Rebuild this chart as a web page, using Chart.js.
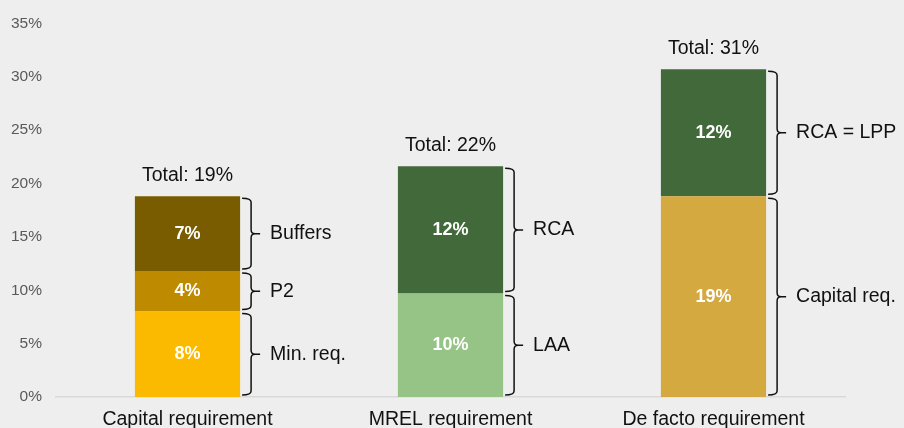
<!DOCTYPE html>
<html><head><meta charset="utf-8">
<script src="https://cdn.jsdelivr.net/npm/chart.js@4"></script>
<style>html,body{margin:0;padding:0;background:#EEEEEE;}#wrap{width:904px;height:428px;}</style>
</head><body><div id="wrap"><canvas id="c" width="904" height="428"></canvas></div>
<script>
const categories = ['Capital requirement', 'MREL requirement', 'De facto requirement'];
const minReq   = [8.0, null, null];
const p2       = [3.8, null, null];
const buffers  = [7.0, null, null];
const laa      = [null, 9.7, null];
const capReq   = [null, null, 18.8];
const rca      = [null, 11.9, 11.9];
const segmentNames = ['Min. req.', 'P2', 'Buffers', 'LAA', 'Capital req.', 'RCA'];
const rcaBracketNames = [null, 'RCA', 'RCA = LPP'];
const yTicks = [0, 5, 10, 15, 20, 25, 30, 35];

const colors = ['#FBBA00', '#BE8B00', '#7A5C00', '#96C386', '#D4A940', '#41693A'];
const series = [minReq, p2, buffers, laa, capReq, rca];
const FONT = '"Liberation Sans", Arial, sans-serif';

const overlay = {
  id: 'overlay',
  afterDatasetsDraw(chart) {
    const ctx = chart.ctx;
    const y = chart.scales.y;
    const nCat = categories.length;
    ctx.save();
    chart.data.datasets.forEach((ds, di) => {
      const meta = chart.getDatasetMeta(di);
      meta.data.forEach((bar, i) => {
        const v = ds.data[i];
        if (v == null) return;
        const top = Math.min(bar.y, bar.base), bot = Math.max(bar.y, bar.base);
        const mid = (top + bot) / 2;
        ctx.fillStyle = '#FFFFFF';
        ctx.font = 'bold 18px ' + FONT;
        ctx.textAlign = 'center';
        ctx.textBaseline = 'middle';
        ctx.fillText(Math.round(v) + '%', bar.x, mid);
        const right = bar.x + bar.width / 2;
        const x0 = right + 2, x1 = right + 11, x2 = right + 20;
        const t = top + 2, b = bot - 2, r = 4;
        ctx.strokeStyle = '#111111';
        ctx.lineWidth = 1.5;
        ctx.beginPath();
        ctx.moveTo(x0, t);
        ctx.quadraticCurveTo(x1, t, x1, t + r);
        ctx.lineTo(x1, mid - r);
        ctx.quadraticCurveTo(x1, mid, x1 + 4, mid);
        ctx.lineTo(x2, mid);
        ctx.moveTo(x1 + 4, mid);
        ctx.quadraticCurveTo(x1, mid, x1, mid + r);
        ctx.lineTo(x1, b - r);
        ctx.quadraticCurveTo(x1, b, x0, b);
        ctx.stroke();
        let name = segmentNames[di];
        if (di === 5) name = rcaBracketNames[i];
        ctx.fillStyle = '#111111';
        ctx.font = '19.5px ' + FONT;
        ctx.textAlign = 'left';
        ctx.fillText(name, right + 30, mid);
      });
    });
    for (let i = 0; i < nCat; i++) {
      let sum = 0, xPos = null;
      chart.data.datasets.forEach((ds, di) => {
        const v = ds.data[i];
        if (v != null) { sum += v; xPos = chart.getDatasetMeta(di).data[i].x; }
      });
      ctx.fillStyle = '#111111';
      ctx.font = '19.5px ' + FONT;
      ctx.textAlign = 'center';
      ctx.textBaseline = 'middle';
      ctx.fillText('Total: ' + Math.round(sum) + '%', xPos, y.getPixelForValue(sum) - 21);
    }
    ctx.restore();
  }
};

new Chart(document.getElementById('c'), {
  type: 'bar',
  data: {
    labels: categories,
    datasets: series.map((d, i) => ({
      label: segmentNames[i],
      data: d,
      backgroundColor: colors[i],
      borderWidth: 0,
      barPercentage: 0.4,
      categoryPercentage: 1.0,
      skipNull: true
    }))
  },
  options: {
    responsive: false,
    animation: false,
    devicePixelRatio: 1,
    layout: { padding: { left: 10, right: 59, top: 14, bottom: 0 } },
    plugins: { legend: { display: false }, tooltip: { enabled: false } },
    scales: {
      x: {
        stacked: true,
        grid: { display: false },
        border: { display: true, color: '#D9D9D9', width: 1.5 },
        ticks: { color: '#111111', font: { family: FONT, size: 19.5 }, padding: 3, maxRotation: 0 },
        afterFit(axis) { axis.height = 31; }
      },
      y: {
        stacked: true,
        min: yTicks[0],
        max: yTicks[yTicks.length - 1],
        afterBuildTicks(axis) { axis.ticks = yTicks.map(v => ({ value: v })); },
        grid: { display: false, drawTicks: false },
        border: { display: false },
        ticks: { color: '#595959', font: { family: FONT, size: 15.5 }, padding: 14, callback: v => v + '%' },
        afterFit(axis) { axis.width = 46; }
      }
    }
  },
  plugins: [overlay]
});
</script></body></html>
